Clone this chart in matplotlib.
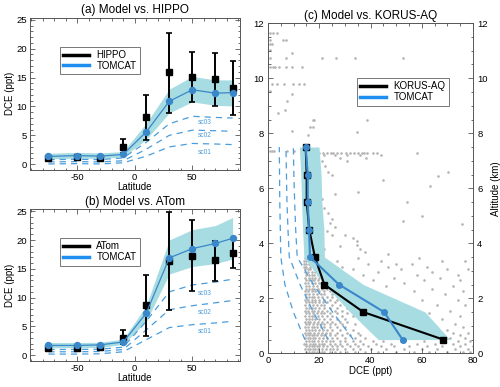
import numpy as np
import matplotlib
matplotlib.use("Agg")
import matplotlib.pyplot as plt
from matplotlib.ticker import MultipleLocator

plt.rcParams['font.family'] = ['Liberation Sans', 'DejaVu Sans']
plt.rcParams['axes.unicode_minus'] = False

# ---------------- panel (a) / (b): latitude bins ----------------
lat = [-75, -50, -30, -10, 10, 30, 50, 70, 85]

hippo = [1.0, 1.3, 1.15, 2.9, 8.1, 15.9, 15.1, 14.8, 13.2]
hippo_lo = [1.0, 1.3, 1.15, 2.0, 4.2, 8.9, 10.8, 10.1, 8.6]
hippo_hi = [1.0, 1.3, 1.15, 4.3, 12.0, 22.8, 19.4, 19.3, 17.9]
tomcat_a = [1.35, 1.5, 1.4, 1.7, 5.6, 10.9, 12.9, 12.3, 12.4]
tomcat_a_lo = [0.95, 1.05, 1.0, 1.3, 4.3, 8.9, 10.8, 10.2, 10.1]
tomcat_a_hi = [1.9, 2.05, 1.95, 2.2, 7.1, 13.0, 15.2, 14.6, 14.6]
sc03_a = [0.8, 0.85, 0.8, 1.1, 3.8, 7.0, 8.3, 8.1, 8.0]
sc02_a = [0.4, 0.45, 0.4, 0.6, 2.6, 5.0, 5.9, 5.8, 5.7]
sc01_a = [0.05, 0.1, 0.05, 0.25, 1.4, 3.0, 3.6, 3.5, 3.4]

atom = [1.2, 1.3, 1.4, 3.0, 8.7, 16.4, 17.3, 16.5, 17.8]
atom_lo = [1.2, 1.3, 1.4, 1.9, 3.4, 7.8, 11.2, 12.9, 15.1]
atom_hi = [1.2, 1.3, 1.4, 4.3, 13.9, 24.9, 23.5, 19.9, 20.2]
tomcat_b = [1.7, 1.7, 1.8, 2.3, 7.3, 16.9, 18.5, 19.4, 20.3]
tomcat_b_lo = [1.3, 1.3, 1.35, 1.9, 5.9, 14.1, 15.4, 15.9, 16.7]
tomcat_b_hi = [2.2, 2.2, 2.25, 2.8, 8.6, 20.0, 21.8, 22.5, 23.9]
sc03_b = [1.0, 1.0, 1.05, 1.4, 5.9, 11.0, 12.2, 12.7, 13.2]
sc02_b = [0.6, 0.6, 0.65, 1.0, 4.4, 7.9, 8.6, 9.1, 9.5]
sc01_b = [0.2, 0.2, 0.25, 0.6, 2.7, 4.8, 5.3, 5.6, 5.9]

# ---------------- panel (c): vertical profile ----------------
alt = [0.5, 1.5, 2.5, 3.5, 4.5, 5.5, 6.5, 7.5]
korus = [68.4, 37.2, 22.0, 18.3, 16.1, 15.1, 15.1, 14.7]
tomcat_c = [52.5, 45.3, 27.7, 16.4, 16.0, 15.5, 15.5, 14.7]
tomcat_c_lo = [43.0, 32.0, 22.0, 14.0, 13.5, 13.1, 12.8, 12.2]
tomcat_c_hi = [71.0, 61.3, 37.2, 22.0, 21.8, 21.0, 20.7, 19.9]
sc01_c = [14.4, 9.9, 6.6, 5.0, 4.8, 4.6, 4.5, 4.4]
sc02_c = [23.5, 17.7, 12.5, 8.3, 7.8, 7.4, 7.2, 7.0]
sc03_c = [33.3, 25.2, 17.7, 11.4, 10.8, 10.4, 10.1, 9.9]

obs_rows = [
    (0.05, [15, 16, 17, 18, 19, 20, 21, 22, 24, 26, 28, 31, 34, 38, 43, 50, 57, 63, 70, 76, 79]),
    (0.15, [14.5, 15.5, 16.5, 17.5, 18.5, 19.5, 21, 22.5, 24, 25.5, 27, 30, 33, 36, 40, 46, 53, 60, 66, 73, 78]),
    (0.25, [15, 16, 17, 18, 19, 20, 21.5, 23, 25, 27, 29, 32, 35, 39, 44, 49, 55, 62, 68, 75, 80]),
    (0.35, [14, 15, 16.5, 17.5, 18.5, 20, 21, 22, 24, 26, 28, 31, 34, 37, 42, 48, 58, 65, 72, 77]),
    (0.45, [15, 16, 17, 18, 19.5, 21, 22.5, 24, 25.5, 28, 30, 33, 36, 41, 45, 52, 61, 69, 74, 79]),
    (0.55, [14.5, 15.5, 16.5, 17.5, 18.5, 20, 21.5, 23, 25, 27, 30, 34, 38, 44, 56, 64, 71, 77]),
    (0.65, [15, 16, 17, 18, 19, 20.5, 22, 24, 26, 29, 32, 36, 47, 67, 75]),
    (0.75, [14.5, 15.5, 16.5, 18, 19.5, 21, 22.5, 24, 27, 31, 35, 62, 72, 78]),
    (0.85, [15, 16, 17, 18.5, 20, 21.5, 23, 25, 28, 33, 54, 70]),
    (0.95, [14.5, 15.5, 17, 18, 19, 20.5, 22, 24, 27, 30, 66, 76]),
    (1.05, [15, 16, 17.5, 19, 20.5, 22, 24, 26, 29, 34, 45, 73]),
    (1.15, [14.5, 15.5, 16.5, 18, 19.5, 21, 23, 25, 28, 31, 59]),
    (1.25, [15, 16, 17, 18.5, 20, 22, 24, 27, 30, 40, 68]),
    (1.35, [14.5, 16, 17, 18, 19.5, 21, 23, 25, 29, 33, 50, 75]),
    (1.45, [15, 16, 17.5, 19, 20.5, 22, 24, 27, 31, 63]),
    (1.55, [14.5, 15.5, 17, 18, 19.5, 21, 23, 26, 29, 42, 71]),
    (1.65, [15, 16, 17, 18.5, 20, 22, 24, 27, 31, 55]),
    (1.75, [14.5, 16, 17.5, 19, 20.5, 22, 25, 28, 36, 66, 77]),
    (1.85, [15, 16, 17, 18.5, 20, 21.5, 23, 26, 30, 48]),
    (1.95, [14.5, 15.5, 17, 18.5, 20, 22, 24, 27, 60, 74]),
    (2.05, [15, 16, 17, 18, 19.5, 21, 23, 25, 33, 44]),
    (2.15, [15, 16, 17.5, 19, 20.5, 22, 25, 29, 69]),
    (2.25, [14.5, 15.5, 17, 18.5, 20, 22, 24, 38, 57, 76]),
    (2.35, [15, 16, 17, 18, 19.5, 21, 23, 27, 31, 64]),
    (2.45, [15, 16, 17.5, 19, 21, 23, 26, 46, 72]),
    (2.55, [14.5, 15.5, 17, 18.5, 20, 22, 24, 34, 53]),
    (2.65, [15, 16, 17, 18, 19.5, 21, 25, 41, 61, 75]),
    (2.75, [14.5, 16, 17, 18.5, 20, 23, 30, 49, 67]),
    (2.85, [15, 16, 17, 18, 19.5, 22, 28, 37, 58, 74]),
    (2.95, [14.5, 15.5, 17, 18.5, 21, 26, 43, 64]),
    (3.05, [14.5, 15.5, 16.5, 18, 20, 24, 33, 52, 70, 78]),
    (3.15, [14, 15, 16.5, 18, 21, 29, 47, 62]),
    (3.25, [14, 15, 16, 17, 19, 23, 39, 50, 56]),
    (3.35, [14, 15, 16, 18, 27, 44, 68, 77]),
    (3.45, [14.5, 15.5, 17, 21, 35, 59]),
    (3.6, [47]), (3.7, [38]), (3.8, [22, 35.9]), (3.9, [28]), (3.95, [34.6]),
    (4.0, [18]), (4.1, [34.6]), (4.2, [33]), (4.3, [25, 30]), (4.45, [23]),
    (4.6, [26]), (4.7, [75.6]), (4.75, [24]), (4.8, [52.6]), (4.9, [25]),
    (5.0, [60]), (5.1, [23.5]), (5.3, [22]), (5.5, [54.1]), (5.6, [21]),
    (5.8, [26.1]), (5.85, [35]), (6.1, [63.2]), (6.2, [20]), (6.3, [45]),
    (6.45, [66.5]), (6.5, [24.9]), (6.6, [23.5, 70.1]), (6.8, [22.2]),
    (6.9, [19]), (7.0, [21, 30.7]), (7.1, [28.1, 38.2]),
    (7.2, [16, 18, 22, 26, 31, 36, 44]),
    (7.3, [15.7, 17, 18, 19, 20, 21.5, 23, 24.5, 25.5, 27, 28.5, 30.5, 32, 33.5,
           35, 36.5, 37.5, 38.5, 41, 42.5, 58]),
    (7.35, [0.8, 1.5, 2.5, 7.5, 10]),
    (7.95, [15.6]), (8.03, [34.7]), (8.1, [9.2]), (8.22, [16.2, 17.7]),
    (8.5, [17.4, 18.0, 38.8]), (8.75, [3.9]), (8.86, [6.7]), (9.16, [7.3]),
    (9.41, [9.2]), (9.53, [0.8]),
    (9.78, [1.5, 3.5, 6.4, 9.6, 12.1, 14.2]),
    (10.4, [0.8, 2.1, 2.7, 4.4, 7.0, 9.2, 13.1]),
    (10.73, [0.8, 7.0, 21, 26.5, 34, 52.6]),
    (10.92, [9.2]), (11.02, [0.8]), (11.25, [0.8, 1.5]),
    (11.38, [0.8, 5.7, 7.0]), (11.63, [0.8, 2.1, 3.6]),
]

BLUE = '#3a87c9'
LEG_BLUE = '#1f8ef1'
DASH_BLUE = '#4b9ddc'
SHADE = '#a6dce2'
FRAME = '#555555'


def style_axes(ax):
    for s in ax.spines.values():
        s.set_color(FRAME)
        s.set_linewidth(0.7)
    ax.tick_params(which='both', direction='in', top=True, right=True,
                   color=FRAME, width=0.6, labelsize=6.8, pad=2)
    ax.tick_params(which='major', length=3.5)
    ax.tick_params(which='minor', length=1.8)


def lat_panel(ax, title, obs, obs_lo, obs_hi, name, mod, mod_lo, mod_hi,
              sc01, sc02, sc03, sc_y):
    ax.fill_between(lat, mod_lo, mod_hi, color=SHADE, lw=0, zorder=1)
    for sc in (sc01, sc02, sc03):
        ax.plot(lat, sc, color=DASH_BLUE, lw=0.9, ls=(0, (5, 4)), zorder=2)
    for lab, y in zip(['sc03', 'sc02', 'sc01'], sc_y):
        ax.text(55, y, lab, color=DASH_BLUE, fontsize=4.8, va='center', zorder=2)
    err = [np.array(obs) - np.array(obs_lo), np.array(obs_hi) - np.array(obs)]
    ax.errorbar(lat, obs, yerr=err, fmt='s', color='black', ms=4.8,
                elinewidth=1.4, capsize=2.3, capthick=1.2, zorder=3)
    ax.plot(lat, mod, color=BLUE, lw=0.9, marker='o', ms=4.3, zorder=4)
    ax.set_xlim(-91, 91)
    ax.set_ylim(-1.0, 25.4)
    ax.xaxis.set_major_locator(MultipleLocator(50))
    ax.xaxis.set_minor_locator(MultipleLocator(10))
    ax.yaxis.set_major_locator(MultipleLocator(5))
    ax.yaxis.set_minor_locator(MultipleLocator(1))
    style_axes(ax)
    ax.set_title(title, fontsize=8.5, pad=3)
    ax.set_xlabel('Latitude', fontsize=7, labelpad=0.5)
    ax.set_ylabel('DCE (ppt)', fontsize=7, labelpad=1)
    h1, = ax.plot([], [], color='black', lw=2.5)
    h2, = ax.plot([], [], color=LEG_BLUE, lw=2.5)
    leg = ax.legend([h1, h2], [name, 'TOMCAT'], loc='upper left',
                    bbox_to_anchor=(0.143, 0.81), borderaxespad=0,
                    fontsize=7, handlelength=2.6, handletextpad=0.8,
                    labelspacing=0.1, borderpad=0.35, fancybox=False,
                    framealpha=1)
    leg.get_frame().set_edgecolor('#777777')
    leg.get_frame().set_linewidth(0.7)


fig = plt.figure(figsize=(5, 3.87), dpi=100)
ax_a = fig.add_axes([0.060, 0.5607, 0.419, 0.394])
ax_b = fig.add_axes([0.060, 0.0672, 0.419, 0.393])
ax_c = fig.add_axes([0.536, 0.0870, 0.410, 0.853])

lat_panel(ax_a, '(a) Model vs. HIPPO', hippo, hippo_lo, hippo_hi, 'HIPPO',
          tomcat_a, tomcat_a_lo, tomcat_a_hi, sc01_a, sc02_a, sc03_a,
          [7.2, 4.9, 2.0])
lat_panel(ax_b, '(b) Model vs. ATom', atom, atom_lo, atom_hi, 'ATom',
          tomcat_b, tomcat_b_lo, tomcat_b_hi, sc01_b, sc02_b, sc03_b,
          [10.7, 7.5, 4.2])

# panel (c)
obs_alt = [a for a, vals in obs_rows for _ in vals]
obs_dce = [v for a, vals in obs_rows for v in vals]
ax_c.scatter(obs_dce, obs_alt, s=3.5, color='#b3b3b3', lw=0, zorder=1)
ax_c.fill_betweenx(alt, tomcat_c_lo, tomcat_c_hi, color=SHADE, lw=0, zorder=2)
for sc in (sc01_c, sc02_c, sc03_c):
    ax_c.plot(sc, alt, color=DASH_BLUE, lw=0.9, ls=(0, (5, 4)), zorder=3)
ax_c.plot(korus, alt, color='black', lw=1.5, marker='s', ms=4, zorder=4)
ax_c.plot(tomcat_c, alt, color=BLUE, lw=1.5, marker='o', ms=4, zorder=5)
ax_c.set_xlim(0, 80)
ax_c.set_ylim(0, 12)
ax_c.xaxis.set_major_locator(MultipleLocator(20))
ax_c.xaxis.set_minor_locator(MultipleLocator(5))
ax_c.yaxis.set_major_locator(MultipleLocator(2))
ax_c.yaxis.set_minor_locator(MultipleLocator(0.5))
style_axes(ax_c)
ax_c.tick_params(labelright=True)
ax_c.tick_params(axis='y', which='both', pad=3)
ax_c.set_title('(c) Model vs. KORUS-AQ', fontsize=8.5, pad=3)
ax_c.set_xlabel('DCE (ppt)', fontsize=7, labelpad=1)
ax_c.yaxis.set_label_position('right')
ax_c.set_ylabel('Altitude (km)', fontsize=7, labelpad=2)
h1, = ax_c.plot([], [], color='black', lw=2.5)
h2, = ax_c.plot([], [], color=LEG_BLUE, lw=2.5)
leg = ax_c.legend([h1, h2], ['KORUS-AQ', 'TOMCAT'], loc='upper left',
                  bbox_to_anchor=(0.434, 0.834), borderaxespad=0,
                  fontsize=7, handlelength=2.6, handletextpad=0.8,
                  labelspacing=0.1, borderpad=0.35, fancybox=False,
                  framealpha=1)
leg.get_frame().set_edgecolor('#777777')
leg.get_frame().set_linewidth(0.7)

fig.savefig('out.png', dpi=100)
